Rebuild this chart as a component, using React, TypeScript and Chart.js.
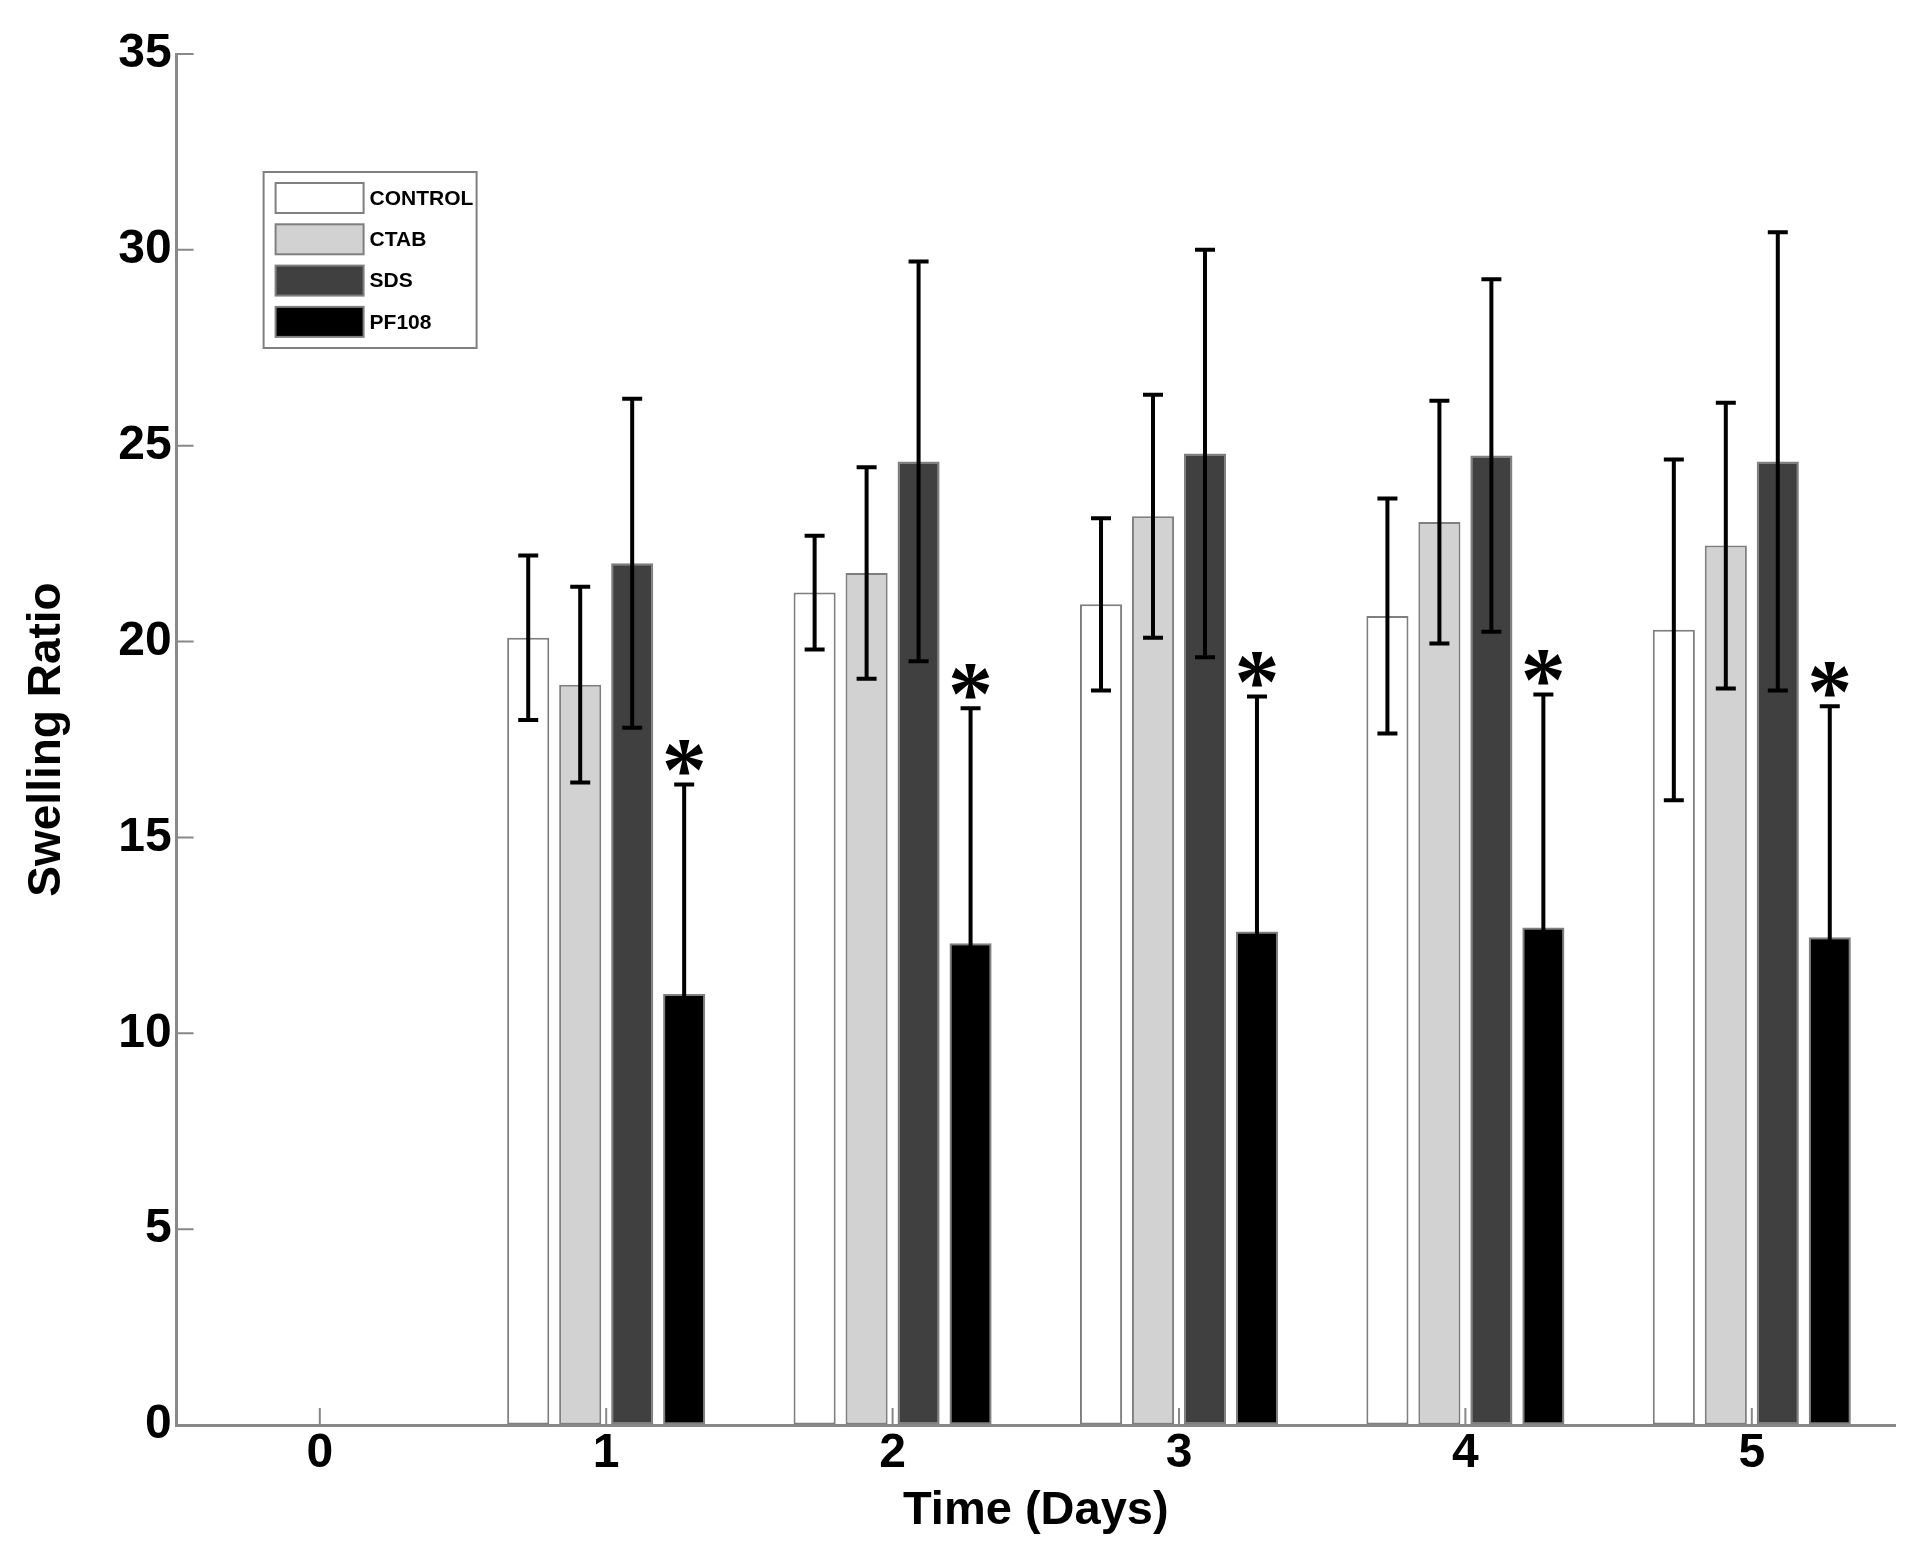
import React, { useEffect, useRef } from 'react';
import { Chart, registerables } from 'chart.js';

Chart.register(...registerables);

const days = ['0', '1', '2', '3', '4', '5'];
const seriesNames = ['CONTROL', 'CTAB', 'SDS', 'PF108'];

const control = [null, 20.1, 21.25, 20.95, 20.65, 20.3];
const controlErr = [0, 2.1, 1.45, 2.2, 3.0, 4.35];
const ctab = [null, 18.9, 21.75, 23.2, 23.05, 22.45];
const ctabErr = [0, 2.5, 2.7, 3.1, 3.1, 3.65];
const sds = [null, 22.0, 24.6, 24.8, 24.75, 24.6];
const sdsErr = [0, 4.2, 5.1, 5.2, 4.5, 5.85];
const pf108 = [null, 11.0, 12.3, 12.6, 12.7, 12.45];
const pf108Err = [0, 5.35, 6.0, 6.0, 5.95, 5.9];
// asterisk above PF108 on these days
const significant = [false, true, true, true, true, true];

const yTicks = [0, 5, 10, 15, 20, 25, 30, 35];

const fills = ['#ffffff', '#d2d2d2', '#404040', '#000000'];
const values = [control, ctab, sds, pf108];
const errors = [controlErr, ctabErr, sdsErr, pf108Err];

const SANS = "'Liberation Sans', Arial, sans-serif";

const overlayPlugin = {
  id: 'overlay',
  afterDatasetsDraw(chart: any) {
    const { ctx, chartArea, scales } = chart;
    const x = scales.x;
    const y = scales.y;
    ctx.save();

    // inward tick marks, matlab style
    ctx.strokeStyle = '#888888';
    ctx.lineWidth = 2;
    ctx.beginPath();
    yTicks.forEach((v) => {
      const py = y.getPixelForValue(v);
      ctx.moveTo(chartArea.left, py);
      ctx.lineTo(chartArea.left + 17, py);
    });
    days.forEach((_, i) => {
      const px = x.getPixelForValue(i);
      ctx.moveTo(px, chartArea.bottom);
      ctx.lineTo(px, chartArea.bottom - 17);
    });
    ctx.stroke();

    // error bars
    ctx.strokeStyle = '#000000';
    ctx.lineWidth = 4;
    values.forEach((vals, di) => {
      const meta = chart.getDatasetMeta(di);
      meta.data.forEach((bar: any, i: number) => {
        const v = vals[i];
        if (v == null) return;
        const e = errors[di][i];
        const top = y.getPixelForValue(v + e);
        const bot = y.getPixelForValue(v - e);
        ctx.beginPath();
        ctx.moveTo(bar.x, top);
        ctx.lineTo(bar.x, bot);
        ctx.moveTo(bar.x - 10, top);
        ctx.lineTo(bar.x + 10, top);
        ctx.moveTo(bar.x - 10, bot);
        ctx.lineTo(bar.x + 10, bot);
        ctx.stroke();
      });
    });

    // significance asterisks
    ctx.fillStyle = '#000000';
    ctx.font = "bold 90px 'Liberation Serif', 'Times New Roman', serif";
    ctx.textAlign = 'center';
    ctx.textBaseline = 'alphabetic';
    const pfMeta = chart.getDatasetMeta(3);
    const m = ctx.measureText('*');
    const mid = (m.actualBoundingBoxAscent - m.actualBoundingBoxDescent) / 2;
    significant.forEach((s, i) => {
      if (!s || pf108[i] == null) return;
      const bar: any = pfMeta.data[i];
      const top = y.getPixelForValue((pf108[i] as number) + pf108Err[i]);
      ctx.fillText('*', bar.x, top - 27 + mid);
    });

    // legend box inside the plot
    const lx = chartArea.left + 87;
    const ly = chartArea.top + 118;
    ctx.fillStyle = '#ffffff';
    ctx.fillRect(lx, ly, 213, 176);
    ctx.strokeStyle = '#808080';
    ctx.lineWidth = 2;
    ctx.strokeRect(lx, ly, 213, 176);
    ctx.font = `bold 21px ${SANS}`;
    ctx.textAlign = 'left';
    ctx.textBaseline = 'middle';
    chart.data.datasets.forEach((ds: any, i: number) => {
      const sy = ly + 11 + i * 41.3;
      ctx.fillStyle = ds.backgroundColor;
      ctx.fillRect(lx + 12, sy, 88, 30);
      ctx.strokeStyle = '#7f7f7f';
      ctx.strokeRect(lx + 12, sy, 88, 30);
      ctx.fillStyle = '#000000';
      ctx.fillText(ds.label, lx + 106, sy + 16);
    });

    ctx.restore();
  },
};

const SwellingChart: React.FC = () => {
  const chartRef = useRef<HTMLCanvasElement>(null);
  const chartInstance = useRef<Chart | null>(null);

  useEffect(() => {
    if (!chartRef.current) return;
    if (chartInstance.current) {
      chartInstance.current.destroy();
    }
    const ctx = chartRef.current.getContext('2d');
    if (!ctx) return;

    chartInstance.current = new Chart(ctx, {
      type: 'bar',
      data: {
        labels: days,
        datasets: seriesNames.map((name, i) => ({
          label: name,
          data: values[i],
          backgroundColor: fills[i],
          borderColor: '#7f7f7f',
          borderWidth: 2,
          borderSkipped: false,
          categoryPercentage: 0.726,
          barPercentage: 0.81,
        })),
      },
      options: {
        responsive: false,
        devicePixelRatio: 1,
        animation: false,
        events: [],
        layout: {
          padding: { top: 54, right: 14, bottom: 25, left: 0 },
        },
        plugins: {
          legend: { display: false },
          tooltip: { enabled: false },
        },
        scales: {
          x: {
            grid: { drawOnChartArea: false, drawTicks: false },
            border: { color: '#888888', width: 3 },
            ticks: {
              color: '#000000',
              padding: 0,
              font: { family: SANS, size: 48, weight: 'bold' },
            },
            title: {
              display: true,
              text: 'Time (Days)',
              color: '#000000',
              padding: { top: 0, bottom: 0 },
              font: { family: SANS, size: 47, weight: 'bold' },
            },
          },
          y: {
            min: 0,
            max: 35,
            grid: { drawOnChartArea: false, drawTicks: false },
            border: { color: '#888888', width: 3 },
            ticks: {
              stepSize: 5,
              color: '#000000',
              padding: 5,
              font: { family: SANS, size: 48, weight: 'bold' },
            },
            title: {
              display: true,
              text: 'Swelling Ratio',
              color: '#000000',
              padding: { top: 20, bottom: 38 },
              font: { family: SANS, size: 46, weight: 'bold' },
            },
          },
        },
      },
      plugins: [overlayPlugin],
    });

    return () => {
      if (chartInstance.current) {
        chartInstance.current.destroy();
        chartInstance.current = null;
      }
    };
  }, []);

  return (
    <div style={{ position: 'absolute', left: 0, top: 0, width: 1909, height: 1564, background: '#ffffff' }}>
      <canvas ref={chartRef} width={1909} height={1564} />
    </div>
  );
};

export default function App() {
  return <SwellingChart />;
}
